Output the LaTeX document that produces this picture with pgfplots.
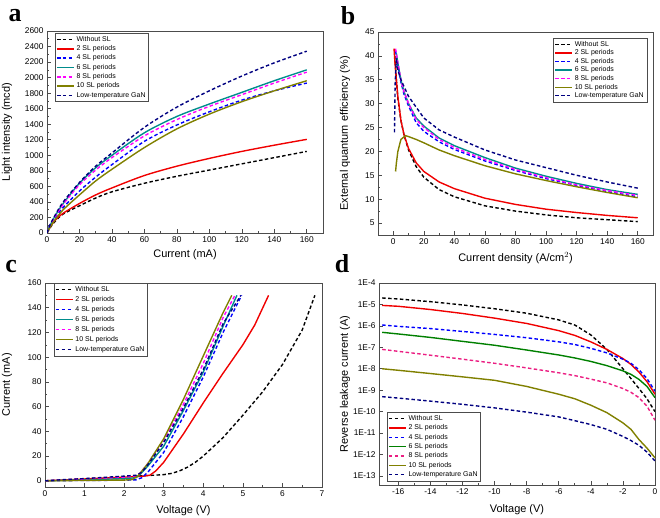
\documentclass[border=0pt]{standalone}
\usepackage{fontspec}
\setmainfont{Liberation Sans}
\newfontfamily\serifb{Liberation Serif}
\usepackage{pgfplots}
\pgfplotsset{compat=1.18}
\definecolor{cnavy}{RGB}{0,0,128}
\definecolor{cblue}{RGB}{0,0,255}
\definecolor{cteal}{RGB}{0,140,140}
\definecolor{cmag}{RGB}{255,0,255}
\definecolor{colive}{RGB}{128,128,0}
\definecolor{cgreen}{RGB}{0,128,0}
\definecolor{cpink}{RGB}{235,30,130}
\definecolor{cred}{RGB}{240,0,0}
\pgfplotsset{
 panel/.style={scale only axis, anchor=south west,
  axis line style={black!70, line width=0.8pt},
  tick align=inside, xtick pos=bottom, ytick pos=left,
  tick style={black!70, line width=0.6pt},
  major tick length=4bp, minor tick length=2bp,
  tick label style={font=\fontsize{8.4}{9}\selectfont},
  label style={font=\fontsize{11}{12}\selectfont},
  /pgf/number format/assume math mode=true,
  /pgf/number format/1000 sep={},
  legend style={font=\fontsize{7}{7.5}\selectfont, draw=black!70,
   inner sep=1pt, row sep=-1.2pt, cells={anchor=west}},
  legend cell align=left,
  legend image post style={line width=1.4pt},
  every axis plot/.append style={line width=1.4pt},
 },
 dsh/.style={dash pattern=on 3.5pt off 2.4pt},
}
\begin{document}
\begin{tikzpicture}[x=1bp,y=1bp]
\useasboundingbox (0,0) rectangle (660,518);
% ---------------- panel a
\begin{axis}[panel, at={(47bp,285bp)}, width=276bp, height=202bp,
 xmin=0, xmax=170, ymin=0, ymax=2600,
 xtick={0,20,...,160}, ytick={0,200,...,2600}, minor x tick num=1, minor y tick num=1,
 xlabel={Current (mA)}, ylabel={Light intensity (mcd)},
 xlabel style={at={(axis description cs:0.5,-0.109)}, anchor=center},
 ylabel style={at={(axis description cs:-0.145,0.5)}, anchor=center},
 legend style={at={(0.029,0.99)}, anchor=north west}]
\addplot[black, dsh, smooth] coordinates {(0,0)(2,70)(5,150)(10,245)(20,350)(30,450)(40,530)(60,640)(80,730)(100,810)(120,890)(140,970)(160,1050)};
\addplot[cred, smooth] coordinates {(0,0)(2,80)(5,165)(10,255)(20,380)(30,490)(40,580)(60,740)(80,860)(100,960)(120,1050)(140,1130)(160,1205)};
\addplot[cblue, dsh, smooth] coordinates {(0,0)(2,110)(5,200)(10,330)(20,540)(30,720)(40,880)(60,1180)(80,1390)(100,1560)(120,1710)(140,1830)(160,1930)};
\addplot[cteal, smooth] coordinates {(0,0)(2,100)(5,220)(10,380)(20,640)(30,840)(40,1000)(60,1290)(80,1500)(100,1660)(120,1810)(140,1960)(160,2100)};
\addplot[cmag, dsh, smooth] coordinates {(0,0)(2,100)(5,210)(10,370)(20,620)(30,810)(40,970)(60,1250)(80,1460)(100,1630)(120,1780)(140,1930)(160,2070)};
\addplot[colive, smooth] coordinates {(0,0)(2,80)(5,170)(10,300)(20,490)(30,670)(40,820)(60,1100)(80,1340)(100,1530)(120,1690)(140,1830)(160,1960)};
\addplot[cnavy, dsh, smooth] coordinates {(0,0)(2,110)(5,230)(10,400)(20,650)(30,860)(40,1030)(60,1360)(80,1620)(100,1830)(120,2020)(140,2190)(160,2340)};
\legend{Without SL,2 SL periods,4 SL periods,6 SL periods,8 SL periods,10 SL periods,Low-temperature GaN}
\end{axis}
% ---------------- panel b
\begin{axis}[panel, at={(378bp,283bp)}, width=275bp, height=203bp,
 xmin=-10, xmax=170, ymin=2.5, ymax=45,
 xtick={0,20,...,160}, ytick={5,10,...,45}, minor x tick num=1, minor y tick num=1,
 xlabel={Current density (A/cm$^2$)}, ylabel={External quantum efficiency (\%)},
 xlabel style={at={(axis description cs:0.5,-0.113)}, anchor=center},
 ylabel style={at={(axis description cs:-0.12,0.5)}, anchor=center},
 legend style={at={(0.978,0.97)}, anchor=north east, row sep=-2pt}]
\addplot[black, dsh] coordinates {(1,40)(2,35)(3,31)(5,26.5)(7,23.5)(10,20.3)(15,16.8)(20,14.6)(30,12)(40,10.5)(60,8.6)(80,7.5)(100,6.7)(120,6.1)(140,5.7)(160,5.3)};
\addplot[cred] coordinates {(0.5,41.5)(1,39)(2,35)(3,31.5)(5,26.5)(7,23.5)(10,20.6)(15,17.6)(20,15.8)(30,13.6)(40,12.2)(60,10.2)(80,8.9)(100,7.9)(120,7.2)(140,6.6)(160,6.1)};
\addplot[cblue, dsh] coordinates {(1.5,41)(3,38)(5,34.5)(7,32)(10,29.5)(15,26)(20,24.2)(30,22)(40,20.4)(60,18)(80,16)(100,14.3)(120,12.9)(140,11.6)(160,10.5)};
\addplot[cteal] coordinates {(2,40.5)(3,38.5)(5,35)(7,32.5)(10,30)(15,27)(20,25.3)(30,22.8)(40,21.2)(60,18.7)(80,16.5)(100,14.8)(120,13.3)(140,12)(160,11)};
\addplot[cmag, dsh] coordinates {(1.5,41.5)(3,38.5)(5,35)(7,32.5)(10,30)(15,26.7)(20,25)(30,22.5)(40,20.8)(60,18.3)(80,16.2)(100,14.5)(120,13)(140,11.8)(160,10.8)};
\addplot[colive] coordinates {(1.5,15.8)(2,17.5)(3,20)(5,22.5)(8,23.3)(10,23.1)(15,22.5)(20,21.8)(30,20.3)(40,19.1)(60,17)(80,15.3)(100,13.9)(120,12.6)(140,11.4)(160,10.3)};
\addplot[cnavy, dsh] coordinates {(0.8,24)(1.2,34)(2,39.5)(3,37)(5,35)(10,31.5)(20,27)(30,24.5)(40,23)(60,20.3)(80,18.2)(100,16.6)(120,15)(140,13.6)(160,12.3)};
\legend{Without SL,2 SL periods,4 SL periods,6 SL periods,8 SL periods,10 SL periods,Low-temperature GaN}
\end{axis}
% ---------------- panel c
\begin{axis}[panel, at={(45bp,31bp)}, width=277bp, height=204bp,
 xmin=0, xmax=7, ymin=-5, ymax=160,
 xtick={0,...,7}, ytick={0,20,...,160}, minor x tick num=1, minor y tick num=1,
 xlabel={Voltage (V)}, ylabel={Current (mA)},
 xlabel style={at={(axis description cs:0.5,-0.118)}, anchor=center},
 ylabel style={at={(axis description cs:-0.137,0.5)}, anchor=center},
 legend style={at={(0.032,1)}, anchor=north west, row sep=-0.5pt}]
\addplot[black, dsh] coordinates {(0,0)(0.5,0.8)(1,1.6)(1.5,2.4)(2,3.3)(2.5,4.2)(2.8,4.6)(3,5)(3.2,6)(3.4,8)(3.6,11)(3.8,15)(4,20)(4.5,35)(5,53)(5.5,72)(6,94)(6.5,122)(6.82,150)};
\addplot[cred] coordinates {(0,0)(0.5,0.7)(1,1.5)(1.5,2.2)(2,3)(2.5,3.8)(2.65,4.5)(2.8,8)(3,15)(3.5,38)(4,63)(4.5,87)(5,110)(5.3,126)(5.65,150)};
\addplot[cblue, dsh] coordinates {(0,0)(1,0.3)(2,0.5)(2.3,0.8)(2.45,2.5)(2.6,7)(3,23)(3.5,52)(4,84)(4.5,120)(4.97,150)};
\addplot[cteal] coordinates {(0,0)(1,0.8)(2,1.8)(2.3,2.5)(2.4,5)(2.6,12)(3,28)(3.5,57)(4,88)(4.5,125)(4.85,150)};
\addplot[cmag, dsh] coordinates {(0,0)(1,1.5)(2,3)(2.3,4)(2.4,6)(2.6,14)(3,32)(3.5,62)(4,95)(4.5,132)(4.8,150)};
\addplot[colive] coordinates {(0,0)(1,0.3)(2,0.6)(2.2,1)(2.35,4)(2.6,14)(3,34)(3.5,66)(4,101)(4.5,136)(4.72,150)};
\addplot[cnavy, dsh] coordinates {(0,0)(0.5,1)(1,1.8)(1.5,2.8)(2,3.8)(2.3,4.5)(2.45,7)(2.6,13)(3,31)(3.5,59)(4,90)(4.5,127)(4.95,150)};
\legend{Without SL,2 SL periods,4 SL periods,6 SL periods,8 SL periods,10 SL periods,Low-temperature GaN}
\end{axis}
% ---------------- panel d
\begin{axis}[panel, at={(379bp,33bp)}, width=276bp, height=202bp, ymode=log,
 xmin=-17.2, xmax=0, ymin=3.8e-14, ymax=1e-4,
 xtick={-16,-14,...,0}, minor x tick num=1,
 ytick={1e-13,1e-12,1e-11,1e-10,1e-9,1e-8,1e-7,1e-6,1e-5,1e-4},
 yticklabels={1E-13,1E-12,1E-11,1E-10,1E-9,1E-8,1E-7,1E-6,1E-5,1E-4},
 yminorticks=false,
 xlabel={Voltage (V)}, ylabel={Reverse leakage current (A)},
 xlabel style={at={(axis description cs:0.5,-0.124)}, anchor=center},
 ylabel style={at={(axis description cs:-0.123,0.5)}, anchor=center},
 legend style={at={(0.029,0.02)}, anchor=south west, row sep=-1.2pt}]
\addplot[black, dsh] coordinates {(-17,2e-5)(-16,1.8e-5)(-14,1.35e-5)(-12,9.5e-6)(-10,6.3e-6)(-8,3.9e-6)(-6,1.9e-6)(-5,1.1e-6)(-4,3.8e-7)(-3,8e-8)(-2,1e-8)(-1.5,3.5e-9)(-1,1.2e-9)(-0.5,4e-10)(0,1e-10)};
\addplot[cred] coordinates {(-17,9e-6)(-16,8.2e-6)(-14,5.8e-6)(-12,3.8e-6)(-10,2.3e-6)(-8,1.3e-6)(-6,6e-7)(-5,3.6e-7)(-4,1.8e-7)(-3,8e-8)(-2,3e-8)(-1.5,1.6e-8)(-1,7e-9)(-0.5,2.5e-9)(0,6.5e-10)};
\addplot[cblue, dsh] coordinates {(-17,1.1e-6)(-16,9.5e-7)(-14,7.5e-7)(-12,5.5e-7)(-10,4e-7)(-8,2.8e-7)(-6,1.8e-7)(-5,1.35e-7)(-4,9e-8)(-3,5.5e-8)(-2,2.8e-8)(-1.5,1.8e-8)(-1,9e-9)(-0.5,3.5e-9)(0,9e-10)};
\addplot[cgreen] coordinates {(-17,5e-7)(-16,4.2e-7)(-14,2.9e-7)(-12,1.9e-7)(-10,1.25e-7)(-8,7.5e-8)(-6,4.4e-8)(-5,3.2e-8)(-4,2.2e-8)(-3,1.4e-8)(-2,8e-9)(-1.5,5.5e-9)(-1,3.2e-9)(-0.5,1.5e-9)(0,4.5e-10)};
\addplot[cpink, dsh] coordinates {(-17,8e-8)(-16,6.5e-8)(-14,4.3e-8)(-12,2.8e-8)(-10,1.8e-8)(-8,1.1e-8)(-6,6.5e-9)(-5,4.8e-9)(-4,3.3e-9)(-3,2.2e-9)(-2,1.2e-9)(-1.5,8e-10)(-1,4.5e-10)(-0.5,1.8e-10)(0,4e-11)};
\addplot[colive] coordinates {(-17,1e-8)(-16,8.5e-9)(-14,6e-9)(-12,4.2e-9)(-10,2.9e-9)(-8,1.5e-9)(-6,6.5e-10)(-5,4e-10)(-4,2e-10)(-3,9e-11)(-2,3e-11)(-1.5,1.5e-11)(-1,5e-12)(-0.5,2e-12)(0,7e-13)};
\addplot[cnavy, dsh] coordinates {(-17,5e-10)(-16,4.3e-10)(-14,3.1e-10)(-12,2.2e-10)(-10,1.5e-10)(-8,9.5e-11)(-6,5.7e-11)(-5,3.8e-11)(-4,2.5e-11)(-3,1.5e-11)(-2,7e-12)(-1.5,4.5e-12)(-1,2.7e-12)(-0.5,1.3e-12)(0,5e-13)};
\legend{Without SL,2 SL periods,4 SL periods,6 SL periods,8 SL periods,10 SL periods,Low-temperature GaN}
\end{axis}
% panel letters
\node[font=\serifb\bfseries\fontsize{26}{26}\selectfont] at (15,502) {a};
\node[font=\serifb\bfseries\fontsize{26}{26}\selectfont] at (348,502) {b};
\node[font=\serifb\bfseries\fontsize{26}{26}\selectfont] at (11,251) {c};
\node[font=\serifb\bfseries\fontsize{26}{26}\selectfont] at (342,254) {d};
\end{tikzpicture}
\end{document}
